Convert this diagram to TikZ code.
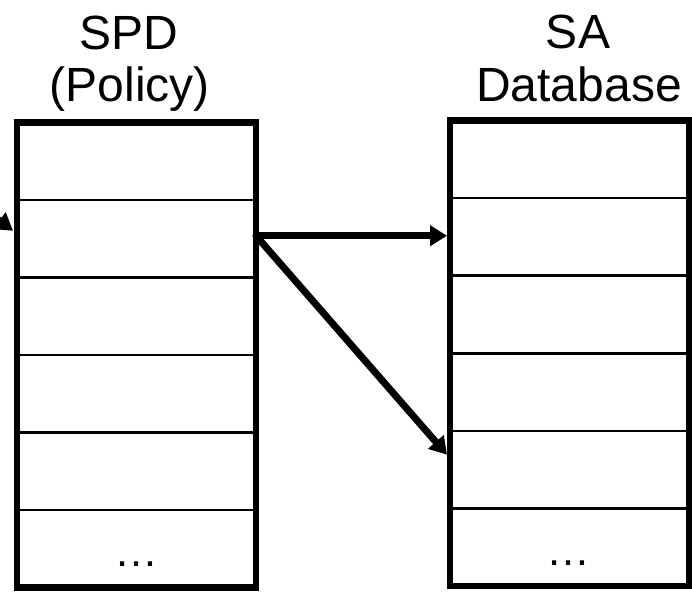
\documentclass[tikz,border=0pt]{standalone}
\usepackage{fontspec}
\setmainfont{Liberation Sans}
\usetikzlibrary{arrows.meta,calc}
\begin{document}
\begin{tikzpicture}[x=1pt,y=-1pt,
  cell/.style={draw=black,line width=2.5pt,outer sep=0pt,inner sep=0pt,
    minimum width=239pt,minimum height=77.6pt},
  frame/.style={draw=black,line width=6.5pt},
  link/.style={draw=black,line width=7pt,line cap=round,
    -{Triangle[length=17pt,width=20pt]}},
  title/.style={font=\fontsize{48}{52}\selectfont,anchor=base,inner sep=0pt},
  dots/.style={font=\fontsize{44}{52}\selectfont,anchor=base,inner sep=0pt},
]
\useasboundingbox (0,0) rectangle (692,591);
\clip (0,0) rectangle (692,591);

% column headings
\node[title] (spdA) at (129,50) {SPD};
\node[title] (spdB) at (130,101) {(Policy)};
\node[title] (saA) at (578,49) {SA};
\node[title] (saB) at (579,102) {Database};

% policy table rows
\foreach \i in {1,...,6}
  \node[cell] (spd\i) at (136.5,{122.5+77.5*(\i-0.5)}) {};
% SA database rows
\foreach \i in {1,...,6}
  \node[cell] (sad\i) at (569.5,{120.5+77.6*(\i-0.5)}) {};

% outer frames
\draw[frame] (spd1.north west) rectangle (spd6.south east);
\draw[frame] (sad1.north west) rectangle (sad6.south east);

% ellipses in the last rows
\node[dots] (spdmore) at (136,566) {…};
\node[dots] (sadmore) at (568,565) {…};

% incoming packet arrow
\coordinate (feed) at (-67,171);
\draw[link] (feed) -- ($(spd2.west)+(-4,-8)$);

% policy entry pointing into the SA database
\coordinate (hub) at ($(spd2.east)+(0,-3)$);
\draw[link] (hub) -- ($(hub -| sad2.west)+(-3,0)$);
\draw[link] (hub) -- ($(sad5.west)+(-3,-15)$);
\end{tikzpicture}
\end{document}
